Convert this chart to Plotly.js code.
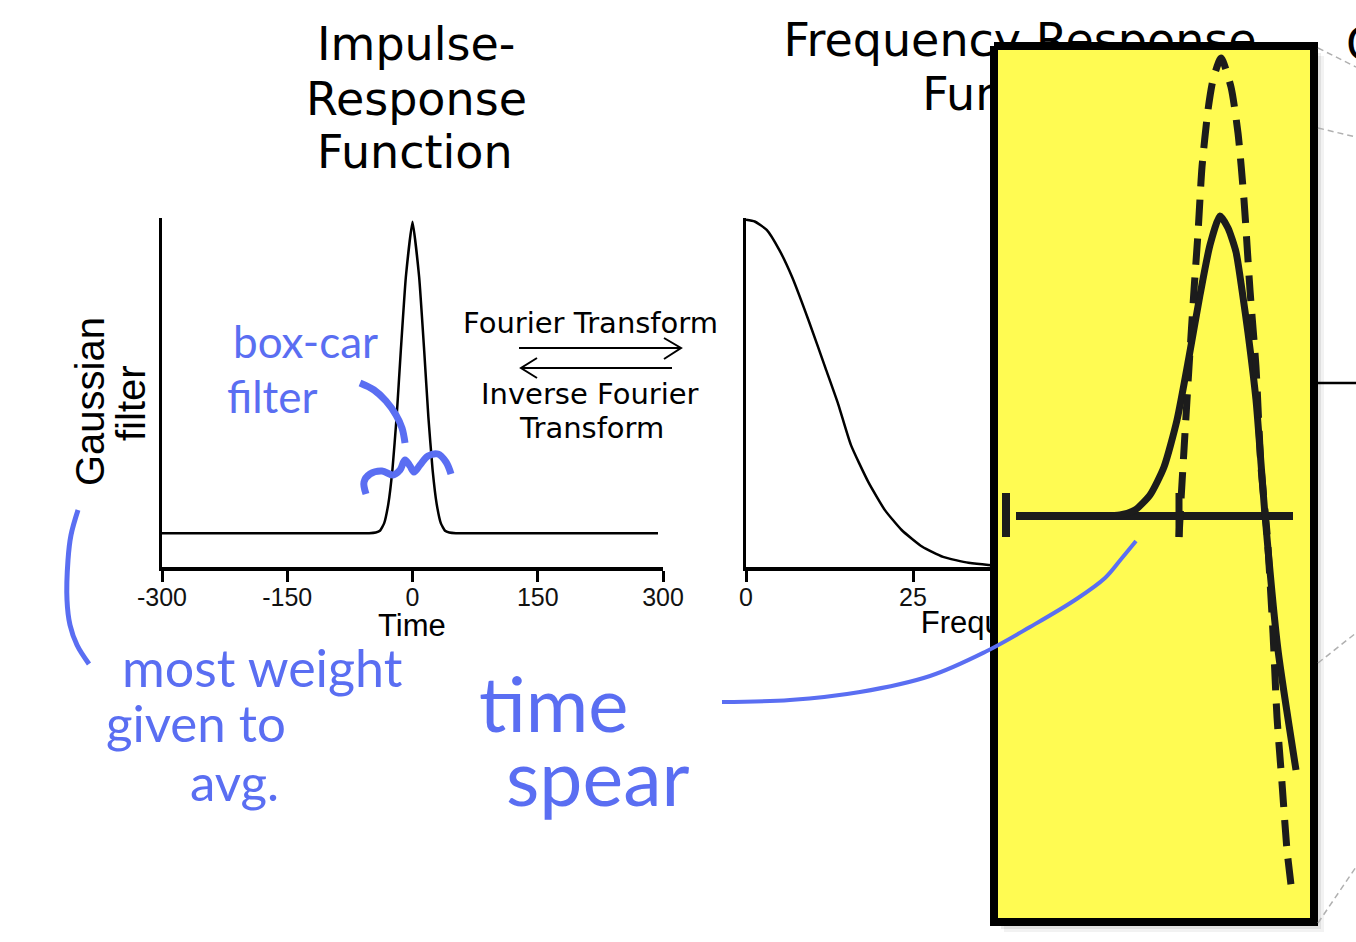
<!DOCTYPE html>
<html><head><meta charset="utf-8">
<script src="https://cdn.plot.ly/plotly-3.0.1.min.js"></script>
<style>html,body{margin:0;padding:0;background:#fff}#chart{width:1356px;height:942px}</style>
</head><body><div id="chart"></div>
<script>
// ---------- chart data ----------
const impulseTime  = [-300, -52, -44, -39, -34, -29, -24, -19, -14, -8, 0, 8, 14, 19, 24, 29, 34, 39, 44, 52, 294];
const impulseValue = [0.097, 0.097, 0.099, 0.104, 0.125, 0.18, 0.28, 0.43, 0.62, 0.83, 0.989, 0.83, 0.62, 0.43, 0.28, 0.18, 0.125, 0.104, 0.099, 0.097, 0.097];
const timeTickVals = [-300, -150, 0, 150, 300];
const timeTickText = ['-300', '-150', '0', '150', '300'];

const freqValues   = [0, 1.3, 3.1, 5.0, 6.9, 9.4, 11.9, 13.8, 15.7, 18.3, 20.8, 23.3, 26.4, 29.5, 33.3, 36.3, 40, 45, 50, 60, 75];
const freqResponse = [0.995, 0.99, 0.966, 0.908, 0.831, 0.705, 0.57, 0.467, 0.35, 0.244, 0.163, 0.106, 0.058, 0.029, 0.012, 0.006, 0.003, 0.001, 0, 0, 0];
const freqTickVals = [0, 25, 50, 75];
const freqTickText = ['0', '25', '50', '75'];

// ---------- callout sketch (page-pixel units on an overlay axis) ----------
const calloutBoxX = [994, 1314, 1314, 994, 994];
const calloutBoxY = [46, 46, 922, 922, 46];
const sketchAxisX = [1016, 1293];
const sketchAxisY = [516, 516];
const sketchTick1X = [1006, 1006], sketchTick1Y = [493, 537];
const sketchTick2X = [1179, 1179], sketchTick2Y = [493, 537];
const sketchSolidX = [1016, 1105, 1120, 1135, 1150, 1164, 1177, 1189, 1200, 1210, 1220, 1228, 1236, 1242, 1248, 1256, 1265, 1278, 1296];
const sketchSolidY = [516, 516, 515, 510, 495, 467, 420, 357, 295, 245, 216, 228, 252, 290, 333, 400, 515, 650, 770];
const sketchDashX = [1179, 1181, 1185, 1189, 1194, 1198, 1202, 1208, 1213, 1221, 1231, 1238, 1244, 1250, 1256, 1261, 1267, 1273, 1277, 1282, 1287, 1292];
const sketchDashY = [537, 500, 433, 367, 290, 233, 167, 110, 80, 58, 87, 133, 200, 290, 367, 467, 533, 633, 717, 783, 850, 893];

// handwritten strokes
const bracketX = [78, 71, 68, 67, 70, 77, 89];
const bracketY = [510, 535, 560, 600, 625, 645, 664];
const filterArrowX = [360, 374, 386, 396, 402, 405];
const filterArrowY = [383, 390, 401, 415, 428, 443];
const squiggleX = [366, 364, 370, 382, 393, 400, 405, 410, 414, 420, 428, 438, 446, 451];
const squiggleY = [494, 482, 474, 471, 475, 470, 460, 466, 472, 465, 456, 454, 462, 474];
const timeStrokeX = [722, 790, 860, 930, 985, 1030, 1075, 1105, 1122, 1136];
const timeStrokeY = [702, 700, 692, 676, 652, 627, 600, 578, 558, 541];

// other decorations
const fwdArrowX = [519, 681, null, 664, 681, 664];
const fwdArrowY = [348, 348, null, 338, 348, 359];
const invArrowX = [672, 521, null, 537, 521, 537];
const invArrowY = [368, 368, null, 358, 368, 378];
const guideX = [[1318, 1356], [1318, 1356], [1318, 1356], [1318, 1356]];
const guideY = [[48, 67], [128, 137], [663, 633], [923, 867]];
const rightRuleX = [1318, 1356], rightRuleY = [383, 383];

// ---------- build ----------
const W = 1356, H = 942;
const INK = '#1c1c1c', BLUE = '#5a6ef2';
const ov = {xaxis: 'x3', yaxis: 'y3', hoverinfo: 'skip', showlegend: false};

function line(x, y, w, color, extra) {
  return Object.assign({type: 'scatter', mode: 'lines', x: x, y: y,
    line: Object.assign({color: color, width: w}, extra || {})}, ov);
}
function txt(x, y, s, size, fam) {
  return Object.assign({type: 'scatter', mode: 'text', x: [x], y: [y], text: [s],
    textposition: 'middle center', cliponaxis: false,
    textfont: {family: fam, size: size, color: '#000'}}, ov);
}

const traces = [];
traces.push({type: 'scatter', mode: 'lines', x: impulseTime, y: impulseValue, xaxis: 'x', yaxis: 'y',
  line: {color: '#000', width: 2.5, shape: 'spline', smoothing: 0.4}, hoverinfo: 'skip', showlegend: false});
traces.push({type: 'scatter', mode: 'lines', x: freqValues, y: freqResponse, xaxis: 'x2', yaxis: 'y2',
  line: {color: '#000', width: 2.5, shape: 'spline', smoothing: 0.5}, hoverinfo: 'skip', showlegend: false});

// texts that the callout box covers
traces.push(txt(1020, 44, 'Frequency Response', 46, 'DejaVu Sans'));
traces.push(txt(1020, 98, 'Function', 46, 'DejaVu Sans'));
traces.push(txt(994, 625, 'Frequency', 31, 'Liberation Sans'));

// callout shadow + box
[[10, 0.05], [7, 0.07], [4, 0.10]].forEach(function (s) {
  traces.push(Object.assign({type: 'scatter', mode: 'lines',
    x: calloutBoxX.map(v => v + s[0]), y: calloutBoxY.map(v => v + s[0]),
    fill: 'toself', fillcolor: 'rgba(0,0,0,' + s[1] + ')', line: {width: 0}}, ov));
});
traces.push(Object.assign({type: 'scatter', mode: 'lines', x: calloutBoxX, y: calloutBoxY,
  fill: 'toself', fillcolor: '#fffb52', line: {color: '#000', width: 8}}, ov));

traces.push(line(sketchAxisX, sketchAxisY, 8, INK));
traces.push(line(sketchTick1X, sketchTick1Y, 8, INK));
traces.push(line(sketchTick2X, sketchTick2Y, 7, INK));
traces.push(line(sketchSolidX, sketchSolidY, 7, INK, {shape: 'spline', smoothing: 0.6}));
traces.push(line(sketchDashX, sketchDashY, 7, INK, {shape: 'spline', smoothing: 0.6, dash: '26px,13px'}));

// handwriting strokes
traces.push(line(bracketX, bracketY, 5, BLUE, {shape: 'spline'}));
traces.push(line(filterArrowX, filterArrowY, 7, BLUE, {shape: 'spline'}));
traces.push(line(squiggleX, squiggleY, 7, BLUE, {shape: 'spline'}));
traces.push(line(timeStrokeX, timeStrokeY, 4, BLUE, {shape: 'spline'}));

// arrows & guides
traces.push(line(fwdArrowX, fwdArrowY, 2, '#000'));
traces.push(line(invArrowX, invArrowY, 2, '#000'));
guideX.forEach(function (gx, i) { traces.push(line(gx, guideY[i], 1.5, '#b0b0b0', {dash: '6px,4px'})); });
traces.push(line(rightRuleX, rightRuleY, 2.5, '#000'));

function ann(x, y, s, size, fam, color, extra) {
  return Object.assign({xref: 'x3', yref: 'y3', x: x, y: y, text: s, showarrow: false, borderpad: 0,
    xanchor: 'center', yanchor: 'middle', font: {family: fam, size: size, color: color}}, extra || {});
}
const annotations = [
  ann(416, 44, 'Impulse-', 46, 'DejaVu Sans', '#000'),
  ann(416, 99, 'Response', 46, 'DejaVu Sans', '#000'),
  ann(415, 152, 'Function', 46, 'DejaVu Sans', '#000'),
  ann(1345, 44, 'C', 46, 'DejaVu Sans', '#000', {xanchor: 'left'}),
  ann(590, 323, 'Fourier Transform', 29, 'DejaVu Sans', '#000'),
  ann(590, 394, 'Inverse Fourier', 29, 'DejaVu Sans', '#000'),
  ann(591, 428, 'Transform', 29, 'DejaVu Sans', '#000'),
  ann(412, 625, 'Time', 31, 'Liberation Sans', '#000'),
  ann(90, 402, 'Gaussian', 40, 'Liberation Sans', '#000', {textangle: -90}),
  ann(131, 403, 'filter', 40, 'Liberation Sans', '#000', {textangle: -90}),
  ann(305, 341, 'box-car', 44, 'Lato', BLUE),
  ann(272, 396, 'filter', 44, 'Lato', BLUE),
  ann(262, 667, 'most weight', 52, 'Lato', BLUE),
  ann(196, 722, 'given to', 51, 'Lato', BLUE),
  ann(234, 781, 'avg.', 51, 'Lato', BLUE),
  ann(553, 702, 'time', 76, 'Lato', BLUE),
  ann(597, 776, 'spear', 77, 'Lato', BLUE)
];

const tickFont = {family: 'Liberation Sans', size: 25, color: '#111'};
const yDom = [1 - 567 / H, 1 - 218 / H];
const layout = {
  width: W, height: H, margin: {l: 0, r: 0, t: 0, b: 0},
  paper_bgcolor: '#fff', plot_bgcolor: 'rgba(0,0,0,0)', showlegend: false,
  xaxis: {domain: [162 / W, 663 / W], range: [-300, 300], anchor: 'y', showline: true, linewidth: 4, linecolor: '#000',
    ticks: 'outside', ticklen: 11, tickwidth: 3, tickcolor: '#000', tickvals: timeTickVals, ticktext: timeTickText,
    ticklabelstandoff: -6, tickfont: tickFont, showgrid: false, zeroline: false},
  yaxis: {domain: yDom, range: [0, 1], anchor: 'x', showline: true, linewidth: 3.5, linecolor: '#000',
    showticklabels: false, ticks: '', showgrid: false, zeroline: false},
  xaxis2: {domain: [746 / W, 1247 / W], range: [0, 75], anchor: 'y2', showline: true, linewidth: 4, linecolor: '#000',
    ticks: 'outside', ticklen: 11, tickwidth: 3, tickcolor: '#000', tickvals: freqTickVals, ticktext: freqTickText,
    ticklabelstandoff: -6, tickfont: tickFont, showgrid: false, zeroline: false},
  yaxis2: {domain: yDom, range: [0, 1], anchor: 'x2', showline: true, linewidth: 3.5, linecolor: '#000',
    showticklabels: false, ticks: '', showgrid: false, zeroline: false},
  xaxis3: {domain: [0, 1], range: [0, W], anchor: 'y3', visible: false, fixedrange: true},
  yaxis3: {domain: [0, 1], range: [H, 0], anchor: 'x3', visible: false, fixedrange: true},
  annotations: annotations
};
Plotly.newPlot('chart', traces, layout, {staticPlot: true, displayModeBar: false});
</script>
</body></html>
